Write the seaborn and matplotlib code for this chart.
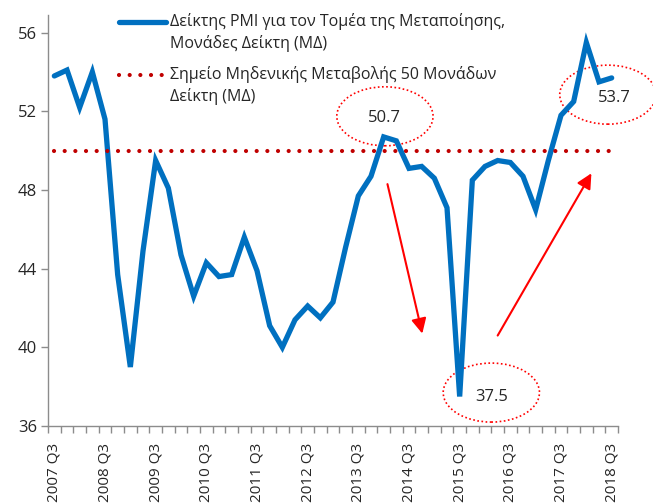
import matplotlib
matplotlib.use('Agg')
import matplotlib.pyplot as plt
from matplotlib.patches import Ellipse
import numpy as np
import pandas as pd
import seaborn as sns

# 四半期ラベル (2007 Q3 - 2018 Q3)
quarters = [f'{y} Q{q}' for y in range(2007, 2019) for q in range(1, 5)][2:-1]

# PMI 製造業
pmi = [53.8, 54.1, 52.2, 54.0, 51.6, 43.7, 39.0, 44.9, 49.5, 48.1,
       44.7, 42.6, 44.3, 43.6, 43.7, 45.6, 43.9, 41.1, 40.0, 41.4,
       42.1, 41.5, 42.3, 45.1, 47.7, 48.7, 50.7, 50.5, 49.1, 49.2,
       48.6, 47.1, 37.5, 48.5, 49.2, 49.5, 49.4, 48.7, 47.0, 49.5,
       51.8, 52.5, 55.5, 53.5, 53.7]
zero_change = 50

label_pmi = 'Δείκτης PMI για τον Τομέα της Μεταποίησης,\nΜονάδες Δείκτη (ΜΔ)'
label_zero = 'Σημείο Μηδενικής Μεταβολής 50 Μονάδων\nΔείκτη (ΜΔ)'

df = pd.DataFrame({'idx': np.arange(len(quarters)), 'quarter': quarters,
                   'pmi': pmi, 'zero': zero_change})

sns.set_style('white')
plt.rcParams['font.family'] = ['Open Sans', 'DejaVu Sans']
text_color = '#262626'
axis_color = '#8c8c8c'

fig = plt.figure(figsize=(6.53, 5.03), dpi=100)
ax = fig.add_axes([48/653, 77/503, 570/653, 411/503])

sns.lineplot(data=df, x='idx', y='pmi', ax=ax, color='#0070C0', linewidth=3.8,
             label=label_pmi, solid_joinstyle='miter')
sns.lineplot(data=df, x='idx', y='zero', ax=ax, color='#C00000', linewidth=3.0,
             linestyle=(0, (0.01, 2.55)), dash_capstyle='round', label=label_zero)

# 注釈 (楕円 + 数値)
red = '#FF0000'
for i, (cx, cy, tx, ty) in {26: (26.1, 51.75, 26.1, 51.65),
                            32: (34.5, 37.7, 34.5, 37.5),
                            44: (43.7, 52.85, 44.25, 52.7)}.items():
    ax.add_patch(Ellipse((cx, cy), 7.6, 3.0, fill=False, edgecolor=red,
                         linestyle=(0, (1, 1.5)), linewidth=1.2, clip_on=False))
    ax.text(tx, ty, f'{pmi[i]:.1f}', ha='center', va='center', fontsize=12,
            color=text_color)

# 矢印
for (x0, y0), (x1, y1) in [((26.3, 48.3), (29.05, 40.7)), ((35.0, 40.6), (42.4, 48.85))]:
    ax.annotate('', xy=(x1, y1), xytext=(x0, y0),
                arrowprops=dict(arrowstyle='-|>,head_length=0.9,head_width=0.45',
                                color=red, linewidth=1.5, shrinkA=0, shrinkB=0))

ax.set_xlim(-0.5, len(quarters) - 0.5)
ax.set_ylim(36, 56.9)
ax.set_yticks(np.arange(36, 57, 4))
ax.set_xticks(np.arange(0, len(quarters), 4))
ax.set_xticklabels(quarters[::4], rotation=90)
ax.set_xticks(np.arange(-0.5, len(quarters), 1), minor=True)
ax.tick_params(axis='x', which='major', length=0, pad=12, labelsize=11, colors=text_color)
ax.tick_params(axis='x', which='minor', length=5, width=1, color=axis_color, bottom=True)
ax.tick_params(axis='y', length=5, width=1, color=axis_color, labelsize=12,
               labelcolor=text_color, left=True, pad=3)
ax.set_xlabel('')
ax.set_ylabel('')
for s in ['top', 'right']:
    ax.spines[s].set_visible(False)
for s in ['left', 'bottom']:
    ax.spines[s].set_color(axis_color)
    ax.spines[s].set_linewidth(1)

leg = ax.legend(loc='upper left', bbox_to_anchor=(0.125, 1.005), frameon=False,
                fontsize=11.5, handlelength=2.9, handletextpad=0.3, labelspacing=0.85,
                borderpad=0, borderaxespad=0)
for t in leg.get_texts():
    t.set_color(text_color)
    t.set_linespacing(1.4)
# 凡例の線を1行目の高さに揃える
for h in leg.legend_handles:
    h.set_ydata(np.asarray(h.get_ydata()) + 8.0)

fig.savefig('out.png', dpi=100)
